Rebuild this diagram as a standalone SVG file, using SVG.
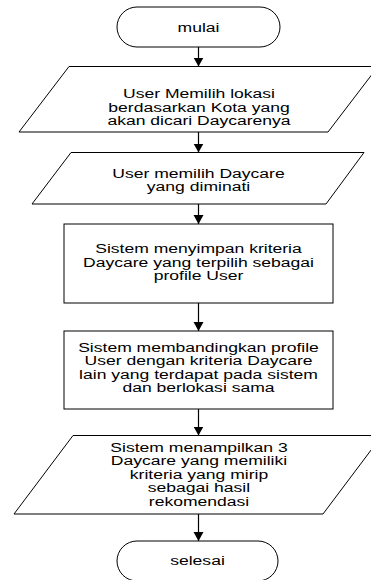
<svg xmlns="http://www.w3.org/2000/svg" width="371" height="580" viewBox="0 0 371 580">
<defs>
<style>
.shape{fill:#ffffff;stroke:#000000;stroke-width:1}
.conn{stroke:#000000;stroke-width:1.2;fill:none;marker-end:url(#arrow)}
.lbl{font-family:"Liberation Sans",Arial,sans-serif;font-size:13.5px;fill:#000000;text-anchor:middle}
</style>
<marker id="arrow" markerUnits="userSpaceOnUse" markerWidth="11" markerHeight="11" refX="9" refY="5" orient="auto">
<path d="M0,0 L9,5 L0,10 Z" fill="#000000"/>
</marker>
</defs>
<rect width="371" height="580" fill="#ffffff"/>
<g id="connectors">
<line class="conn" x1="198.5" y1="47" x2="198.5" y2="66.5"/>
<line class="conn" x1="198.5" y1="132" x2="198.5" y2="152.5"/>
<line class="conn" x1="198.5" y1="204" x2="198.5" y2="224"/>
<line class="conn" x1="198.5" y1="303" x2="198.5" y2="331"/>
<line class="conn" x1="198.5" y1="409" x2="198.5" y2="435.5"/>
<line class="conn" x1="198.5" y1="514" x2="198.5" y2="541"/>
</g>
<g id="mulai">
<rect class="shape" x="117" y="7" width="163" height="40" rx="20" ry="20"/>
<g transform="translate(198.5 0) scale(1.3 1)"><text class="lbl" x="0" y="32">mulai</text></g>
</g>
<g id="pilih-lokasi">
<polygon class="shape" points="69,66.5 378,66.5 328,132 19,132"/>
<g transform="translate(199 0) scale(1.3 1)">
<text class="lbl" x="0" y="98.5">User Memilih lokasi</text>
<text class="lbl" x="0" y="112">berdasarkan Kota yang</text>
<text class="lbl" x="0" y="125.5">akan dicari Daycarenya</text>
</g>
</g>
<g id="pilih-daycare">
<polygon class="shape" points="71,152.5 364,152.5 326,204 32,204"/>
<g transform="translate(198.5 0) scale(1.3 1)">
<text class="lbl" x="0" y="178">User memilih Daycare</text>
<text class="lbl" x="0" y="191.5">yang diminati</text>
</g>
</g>
<g id="simpan-kriteria">
<rect class="shape" x="64" y="224" width="269" height="79"/>
<g transform="translate(198.5 0) scale(1.3 1)">
<text class="lbl" x="0" y="253.5">Sistem menyimpan kriteria</text>
<text class="lbl" x="0" y="267">Daycare yang terpilih sebagai</text>
<text class="lbl" x="0" y="280.5">profile User</text>
</g>
</g>
<g id="bandingkan">
<rect class="shape" x="64" y="331" width="269" height="78"/>
<g transform="translate(198.5 0) scale(1.3 1)">
<text class="lbl" x="0" y="352">Sistem membandingkan profile</text>
<text class="lbl" x="0" y="365.4">User dengan kriteria Daycare</text>
<text class="lbl" x="0" y="378.8">lain yang terdapat pada sistem</text>
<text class="lbl" x="0" y="392.2">dan berlokasi sama</text>
</g>
</g>
<g id="tampilkan">
<polygon class="shape" points="73,435.5 382,435.5 323,514 14,514"/>
<g transform="translate(199 0) scale(1.3 1)">
<text class="lbl" x="0" y="452">Sistem menampilkan 3</text>
<text class="lbl" x="0" y="465.4">Daycare yang memiliki</text>
<text class="lbl" x="0" y="478.8">kriteria yang mirip</text>
<text class="lbl" x="0" y="492.2">sebagai hasil</text>
<text class="lbl" x="0" y="505.6">rekomendasi</text>
</g>
</g>
<g id="selesai">
<rect class="shape" x="117" y="541" width="161" height="40" rx="20" ry="20"/>
<g transform="translate(197.5 0) scale(1.3 1)"><text class="lbl" x="0" y="565.5">selesai</text></g>
</g>
</svg>
